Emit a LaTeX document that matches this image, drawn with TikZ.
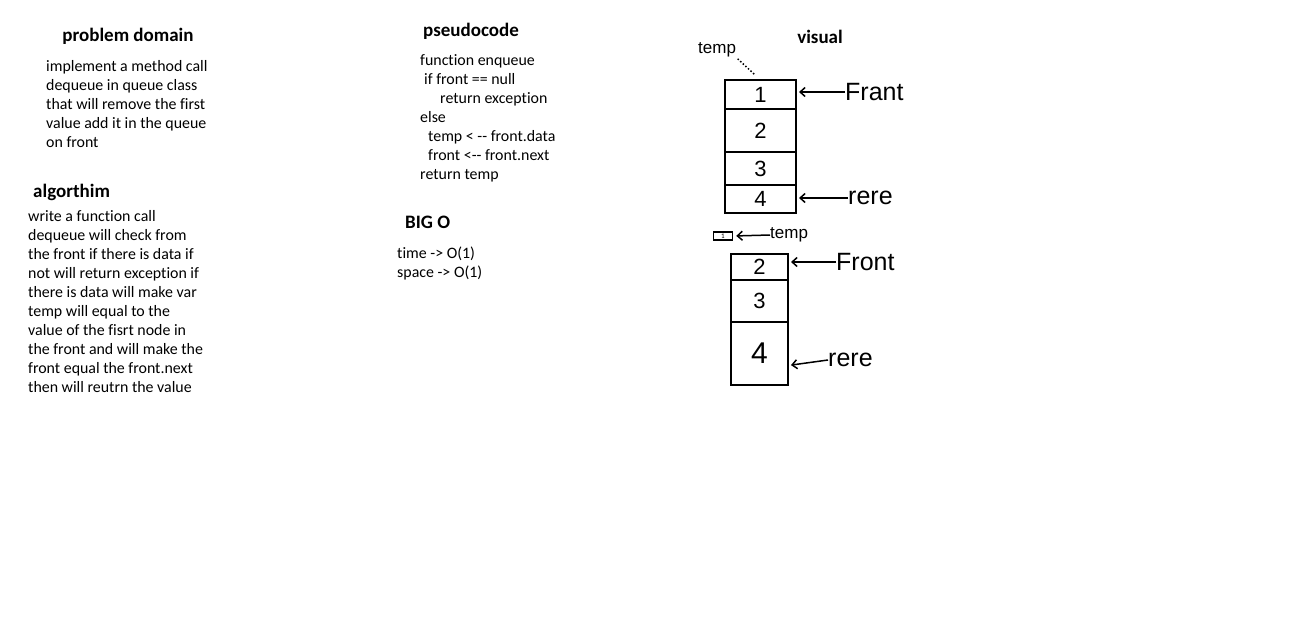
\documentclass[tikz,border=0pt]{standalone}
\usepackage{fontspec}
\setmainfont{Carlito}[Ligatures={TeXOff,CommonOff}]
\newfontfamily\handfont{Liberation Sans}
\usetikzlibrary{arrows.meta}
\tikzset{
  heading/.style={font=\fontsize{19}{19}\selectfont\bfseries, inner sep=0pt},
  bodytext/.style={font=\fontsize{15.9}{19}\selectfont, align=left, anchor=north west, inner sep=0pt},
  cell/.style={draw, line width=2.8pt, inner sep=0pt, outer sep=0pt, font=\handfont\fontsize{22}{22}\selectfont},
  hand/.style={font=\handfont\fontsize{25}{25}\selectfont, inner sep=0pt, anchor=west},
  pointer/.style={->, line width=1.5pt, shorten >=3pt, >={Straight Barb[length=5pt,width=9pt]}},
}
\begin{document}
\begin{tikzpicture}[x=1pt,y=-1pt]
\useasboundingbox[fill=white] (0,0) rectangle (1300,618);
% problem domain
\node[heading] (pdhead) at (128,36) {problem domain};
\node[bodytext] (pdtext) at (46,60) {implement a method call\\dequeue in queue class\\that will remove the first\\value add it in the queue\\on front};
% algorithm
\node[heading,anchor=west] (alghead) at (33,192) {algorthim};
\node[bodytext] (algtext) at (28,210) {write a function call\\dequeue will check from\\the front if there is data if\\not will return exception if\\there is data will make var\\temp will equal to the\\value of the fisrt node in\\the front and will make the\\front equal the front.next\\then will reutrn the value};
% pseudocode
\node[heading,anchor=west] (pshead) at (423,31) {pseudocode};
\node[bodytext] (pstext) at (420,54) {function enqueue\\\hspace*{4pt}if front == null\\\hspace*{20pt}return exception\\else\\\hspace*{8pt}temp < -- front.data\\\hspace*{8pt}front <-- front.next\\return temp};
% big o
\node[heading,anchor=west] (bohead) at (405,222) {BIG O};
\node[bodytext] (botext) at (397,247) {time -> O(1)\\space -> O(1)};
% visual
\node[heading] (vishead) at (820,37) {visual};
\node[cell,minimum width=71pt,minimum height=29pt] (qa1) at (760.5,94.5) {1};
\node[cell,minimum width=71pt,minimum height=43pt] (qa2) at (760.5,130.5) {2};
\node[cell,minimum width=71pt,minimum height=33pt] (qa3) at (760.5,168.5) {3};
\node[cell,minimum width=71pt,minimum height=28pt] (qa4) at (760.5,199) {4};
\node[hand] (fronta) at (845,92) {Frant};
\node[hand] (rerea) at (848,198) {rere};
\node[hand,font=\handfont\fontsize{17}{17}\selectfont] (tempa) at (698,50) {temp};
\draw[pointer] (fronta.west) -- (qa1.east |- fronta.west);
\draw[pointer] (rerea.west) -- (qa4.east |- rerea.west);
\draw[dotted,line width=1.5pt,shorten <=2pt,shorten >=8pt] (tempa.south east) -- (qa1.north);
% after dequeue
\node[cell,minimum width=57pt,minimum height=26pt] (qb2) at (759.5,267) {2};
\node[cell,minimum width=57pt,minimum height=42pt] (qb3) at (759.5,301) {3};
\node[cell,minimum width=57pt,minimum height=63pt,font=\handfont\fontsize{30}{30}\selectfont] (qb4) at (759.5,353.5) {4};
\node[draw,line width=1.5pt,minimum width=19pt,minimum height=8pt,inner sep=0pt,font=\fontsize{7}{7}\selectfont] (oldcell) at (723,236) {1};
\node[hand,font=\handfont\fontsize{17}{17}\selectfont] (tempb) at (770,235) {temp};
\node[hand] (frontb) at (836,262) {Front};
\node[hand] (rereb) at (828,360) {rere};
\draw[pointer] (tempb.west) -- (oldcell.east);
\draw[pointer] (frontb.west) -- (qb2.east |- frontb.west);
\draw[pointer] (rereb.west) -- ([yshift=-12pt]qb4.east);
\end{tikzpicture}
\end{document}
